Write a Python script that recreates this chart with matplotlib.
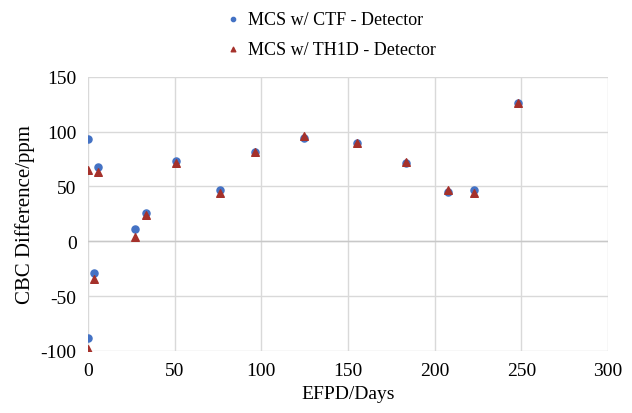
import matplotlib.pyplot as plt

# EFPD (days) and CBC difference (ppm)
days = [0, 0, 3.5, 5.7, 27.3, 33.5, 50.6, 76, 96.5, 124.4, 155, 183.5, 207.6, 222.5, 248]
ctf = [93, -88, -29, 68, 11, 26, 73, 46.5, 81, 94, 89.7, 71, 45, 46.6, 126.4]
th1d = [65, -98, -34, 63, 4, 24, 71, 44, 81, 96, 89.5, 72, 47, 44, 126]

plt.rcParams['font.family'] = ['Liberation Serif', 'DejaVu Serif']
plt.rcParams['axes.unicode_minus'] = False

fig = plt.figure(figsize=(6.32, 4.14), dpi=100)
ax = fig.add_axes([0.139, 0.150, 0.823, 0.662])

ax.scatter(days, ctf, s=26, color='#4472C4', marker='o', label='MCS w/ CTF - Detector', zorder=3)
ax.scatter(days, th1d, s=30, color='#A5312B', marker='^', label='MCS w/ TH1D - Detector', zorder=4)

ax.set_xlim(0, 300)
ax.set_ylim(-100, 150)
ax.set_xticks(range(0, 301, 50))
ax.set_yticks(range(-100, 151, 50))
ax.grid(True, color='#D9D9D9', linewidth=1)
ax.set_axisbelow(True)
for s in ax.spines.values():
    s.set_visible(False)
ax.axhline(0, color='#C8C8C8', linewidth=1, zorder=1)
ax.tick_params(length=0, labelsize=14, pad=8)

ax.set_xlabel('EFPD/Days', fontsize=14)
ax.set_ylabel('CBC Difference/ppm', fontsize=15)

fig.legend(loc='upper center', bbox_to_anchor=(0.515, 1.01), frameon=False,
           fontsize=13, labelspacing=0.7, handletextpad=-0.2, markerscale=0.6)

fig.savefig('out.png', dpi=100)
